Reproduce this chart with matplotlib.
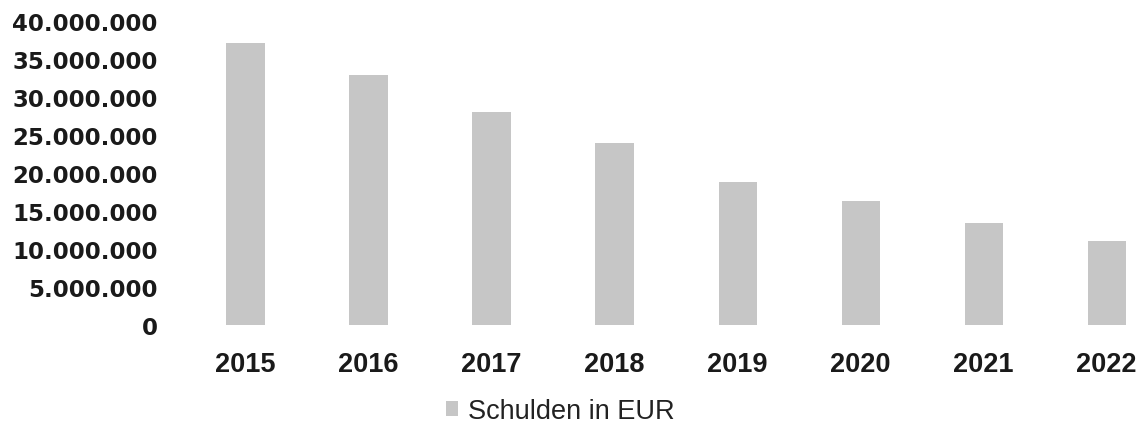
import matplotlib.pyplot as plt
from matplotlib.ticker import FuncFormatter

# Daten (Schulden in EUR)
jahre = ['2015', '2016', '2017', '2018', '2019', '2020', '2021', '2022']
schulden = [37100000, 32900000, 28000000, 23900000, 18800000, 16300000, 13400000, 11050000]
y_ticks = [0, 5000000, 10000000, 15000000, 20000000, 25000000, 30000000, 35000000, 40000000]

fig = plt.figure(figsize=(11.46, 4.27), dpi=100)
ax = fig.add_axes([184 / 1146, 101 / 427, 962 / 1146, 304 / 427])

x = list(range(len(jahre)))
ax.bar(x, schulden, width=0.31, color='#c6c6c6', label='Schulden in EUR')

ax.set_xlim(-0.5, 7.32)
ax.set_ylim(0, 40000000)
ax.set_yticks(y_ticks)
ax.yaxis.set_major_formatter(FuncFormatter(lambda v, p: f"{v:,.0f}".replace(",", ".")))
ax.set_xticks(x)
ax.set_xticklabels(jahre)

for lbl in ax.get_yticklabels():
    lbl.set_fontfamily('DejaVu Sans')
    lbl.set_fontweight('bold')
    lbl.set_fontsize(16.5)
    lbl.set_color('#1a1a1a')
for lbl in ax.get_xticklabels():
    lbl.set_fontfamily('Liberation Sans')
    lbl.set_fontweight('bold')
    lbl.set_fontsize(19.5)
    lbl.set_color('#1a1a1a')

ax.tick_params(axis='both', length=0)
ax.tick_params(axis='y', pad=19)
ax.tick_params(axis='x', pad=19)
for s in ax.spines.values():
    s.set_visible(False)

# Legende unten, knapp über dem Bildrand
fig.legend(loc='center', bbox_to_anchor=(560 / 1146, 15 / 427), frameon=False,
           prop={'family': 'Liberation Sans', 'size': 19.5},
           handlelength=0.45, handleheight=0.45, handletextpad=0.35,
           borderpad=0.2, labelcolor='#222222')

plt.savefig('out.png', dpi=100)
plt.close()
